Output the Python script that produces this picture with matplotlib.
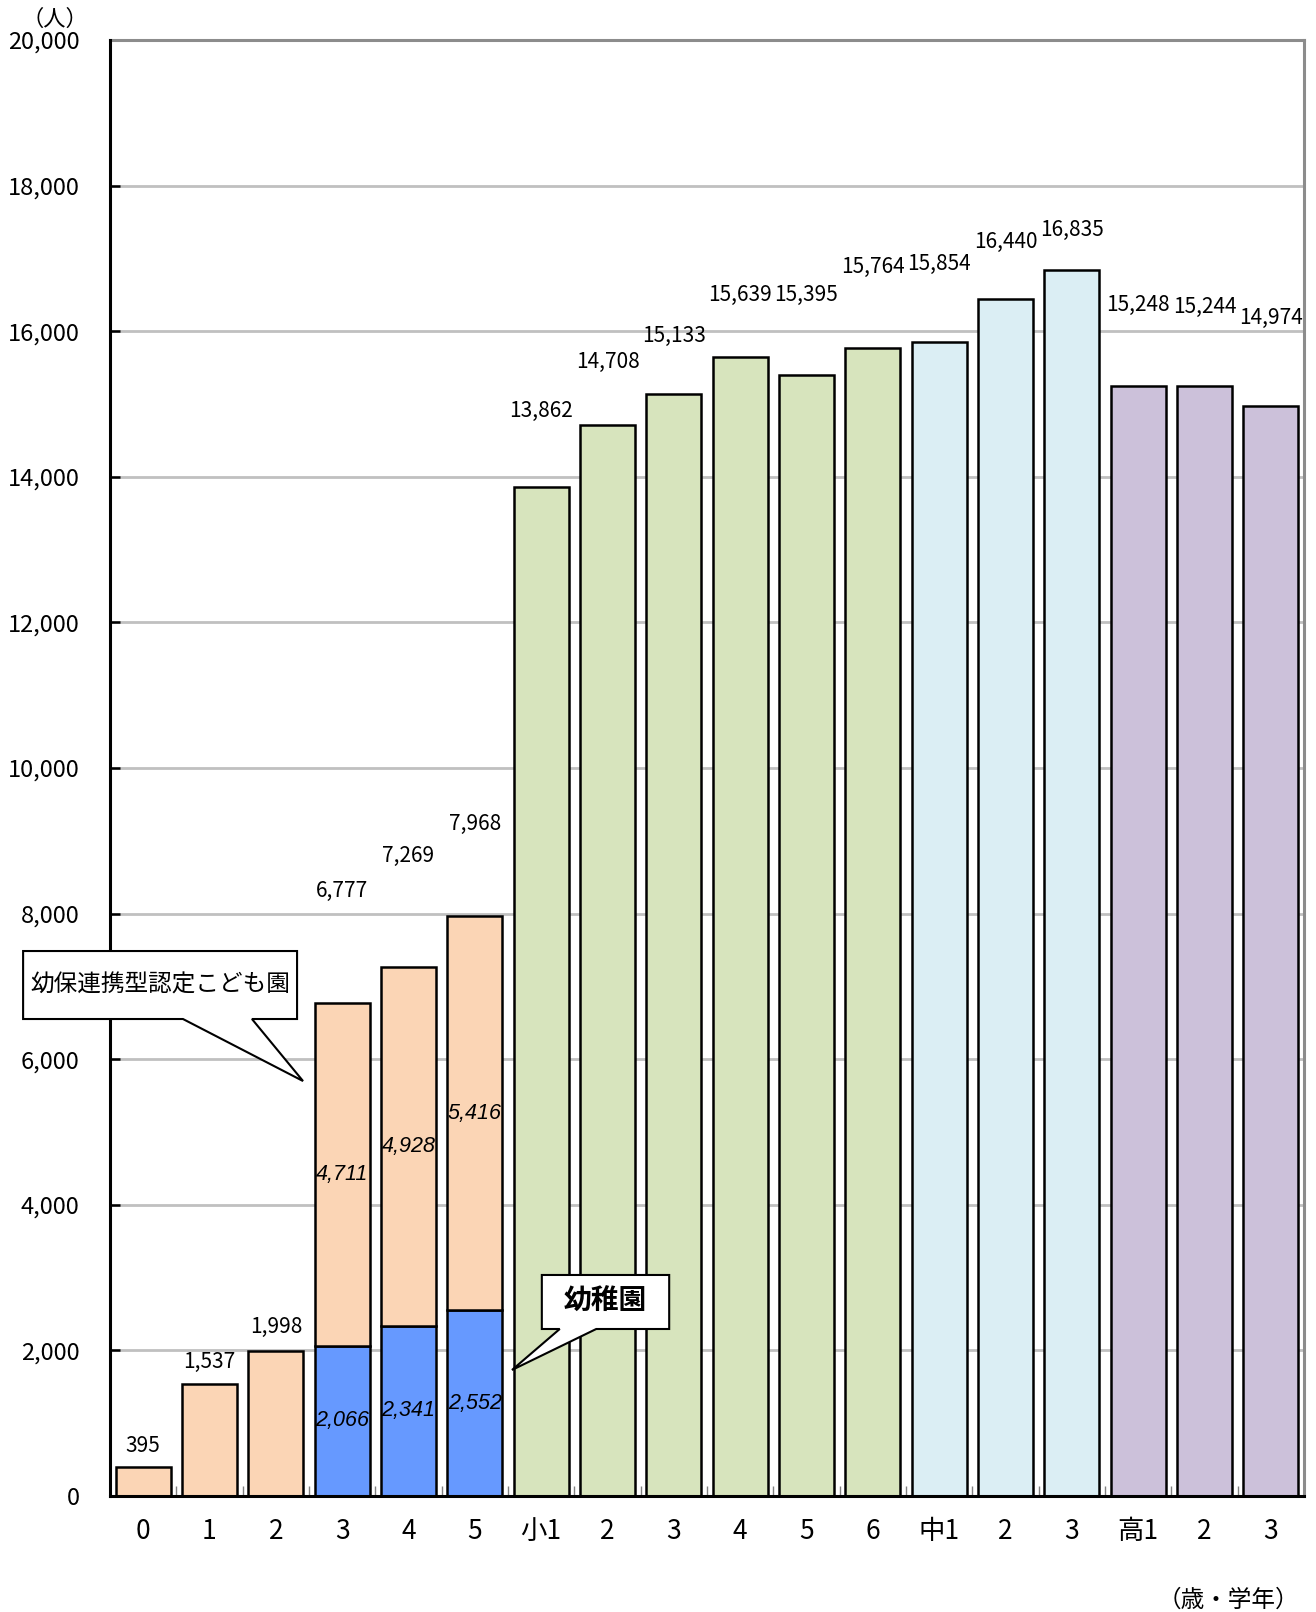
import matplotlib
matplotlib.use("Agg")
import matplotlib.pyplot as plt
from matplotlib.patches import Polygon

plt.rcParams['font.family'] = ['Noto Sans CJK JP', 'DejaVu Sans']

# ---- data ----
categories = ['0', '1', '2', '3', '4', '5', '小1', '2', '3', '4', '5', '6',
              '中1', '2', '3', '高1', '2', '3']
totals = [395, 1537, 1998, 6777, 7269, 7968, 13862, 14708, 15133, 15639,
          15395, 15764, 15854, 16440, 16835, 15248, 15244, 14974]
kindergarten = [None, None, None, 2066, 2341, 2552] + [None] * 12
nintei = [None, None, None, 4711, 4928, 5416] + [None] * 12
yticks = [0, 2000, 4000, 6000, 8000, 10000, 12000, 14000, 16000, 18000, 20000]
callout1_text = '幼保連携型認定こども園'
callout2_text = '幼稚園'
yunit = '（人）'
xunit = '（歳・学年）'

# ---- style / layout ----
group_colors = (['#FBD5B5'] * 6 + ['#D7E4BD'] * 6 + ['#DBEEF4'] * 3 + ['#CCC1DA'] * 3)
blue = '#6699FF'
bar_w = 0.83
label_off_px = [21, 22, 24, 112, 111, 92, 76, 63, 58, 63, 80, 81, 78, 57, 40, 81, 79, 88]

fig = plt.figure(figsize=(13.16, 16.12), dpi=100)
ax = fig.add_axes([110/1316, 116/1612, 1194/1316, 1456/1612])
x = list(range(len(categories)))

# bars
for i in x:
    if kindergarten[i] is not None:
        ax.bar(i, kindergarten[i], width=bar_w, color=blue, edgecolor='black', lw=1.8, zorder=3)
        ax.bar(i, nintei[i], bottom=kindergarten[i], width=bar_w, color=group_colors[i],
               edgecolor='black', lw=1.8, zorder=3)
        ax.text(i, kindergarten[i] / 2, f'{kindergarten[i]:,}', ha='center', va='center',
                fontsize=15.5, style='italic', family='Liberation Sans', zorder=4)
        ax.text(i, kindergarten[i] + nintei[i] / 2, f'{nintei[i]:,}', ha='center', va='center',
                fontsize=15.5, style='italic', family='Liberation Sans', zorder=4)
    else:
        ax.bar(i, totals[i], width=bar_w, color=group_colors[i], edgecolor='black', lw=1.8, zorder=3)

for i in x:
    ax.annotate(f'{totals[i]:,}', xy=(i, totals[i]), xytext=(0, label_off_px[i]),
                textcoords='offset pixels', ha='center', va='center', fontsize=15,
                annotation_clip=False, zorder=5)

ax.set_xlim(-0.5, len(categories) - 0.5)
ax.set_ylim(0, 20000)
ax.set_yticks(yticks)
ax.set_yticklabels([f'{v:,}' for v in yticks], fontsize=17)
ax.set_xticks(x)
ax.set_xticklabels(categories, fontsize=19)
ax.tick_params(axis='x', length=0, pad=16)
ax.set_xticks([i + 0.5 for i in x[:-1]], minor=True)
ax.tick_params(axis='x', which='minor', direction='in', length=7, width=1, color='#808080')
ax.tick_params(axis='y', direction='in', length=7, width=1.8, color='black', pad=22)
for lab in ax.get_yticklabels():
    lab.set_horizontalalignment('right')

ax.yaxis.grid(True, color='#C0C0C0', lw=2, zorder=0)
ax.set_axisbelow(True)
for s in ['left', 'bottom']:
    ax.spines[s].set_color('black')
    ax.spines[s].set_linewidth(2.2)
    ax.spines[s].set_zorder(6)
for s in ['top', 'right']:
    ax.spines[s].set_color('#8C8C8C')
    ax.spines[s].set_linewidth(2.2)

# callouts
def callout(x0, x1, ytop, ybot, p1, p2, tip, text, fs, weight='normal'):
    verts = [(x0, ytop), (x1, ytop), (x1, ybot), (p2, ybot), tip, (p1, ybot), (x0, ybot)]
    poly = Polygon(verts, closed=True, facecolor='white', edgecolor='black', lw=1.5,
                   zorder=8, clip_on=False)
    ax.add_patch(poly)
    ax.text((x0 + x1) / 2, (ytop + ybot) / 2, text, ha='center', va='center',
            fontsize=fs, fontweight=weight, zorder=9, clip_on=False)

callout(-1.81, 2.32, 7486, 6552, 0.60, 1.64, (2.41, 5700), callout1_text, 17)
callout(6.01, 7.93, 3036, 2294, 6.28, 6.83, (5.56, 1731), callout2_text, 20, 'bold')

fig.text(55/1316, 1 - 19/1612, yunit, ha='center', va='center', fontsize=16)
fig.text(1228/1316, 1 - 1600/1612, xunit, ha='center', va='center', fontsize=17)

fig.savefig('out.png', dpi=100)
